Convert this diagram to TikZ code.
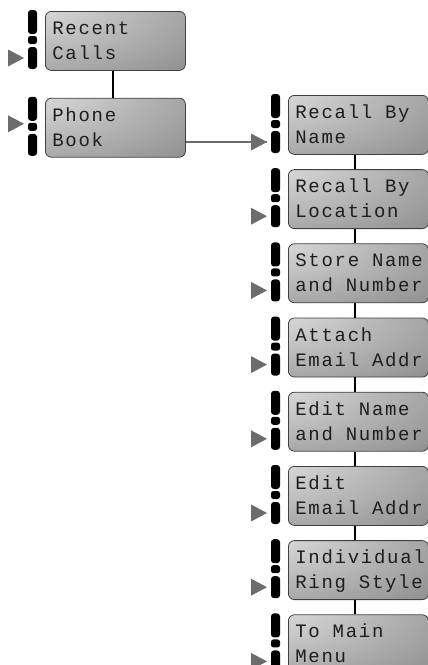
\documentclass[tikz,border=0pt]{standalone}
\usepackage{fontspec}
\newfontfamily\lcdfont[LetterSpace=9]{Liberation Mono}
\usepackage{xcolor}
\usepackage{tikz}
\usetikzlibrary{calc, positioning}
\definecolor{lcdlight}{RGB}{218,218,218}
\definecolor{lcddark}{RGB}{78,78,78}
\definecolor{lcdedge}{RGB}{64,64,64}
\definecolor{lcdtext}{RGB}{30,30,30}
\definecolor{selgray}{RGB}{108,108,108}
\pgfdeclareradialshading{lcdshade}{\pgfpoint{-45bp}{40bp}}{color(0bp)=(lcdlight); color(15bp)=(lcdlight); color(120bp)=(lcddark); color(170bp)=(lcddark)}
% fixed-pitch gap between words on the display
\newcommand\lcdgap{\kern12.8pt\relax}
\tikzset{
    lcdbox/.style={
        draw=lcdedge, line width=0.8pt, rounded corners=6pt, shading=lcdshade,
        minimum width=140pt, minimum height=59pt, anchor=north west,
        inner xsep=7pt, inner ysep=0pt, text width=126pt, align=left,
        text height=15.5pt, text depth=28.5pt, text=lcdtext,
        font=\lcdfont\fontsize{19}{25}\selectfont
    },
    keycap/.style={fill=black, rounded corners=3pt},
    keydot/.style={fill=black, rounded corners=2.5pt},
    selmark/.style={fill=selgray},
    menu link/.style={draw=black, line width=2pt},
    jump link/.style={draw=selgray, line width=2.6pt}
}

\begin{document}
\begin{tikzpicture}[x=1pt, y=1pt]
    \useasboundingbox (0,0) rectangle (428,-665);
    % top level
    \node[lcdbox] (rc) at (45,-11) {Recent\\Calls};
    \node[lcdbox, below=27pt of rc] (pb) {Phone\\Book};
    % phone book submenu
    \node[lcdbox] (r1) at (288,-95) {Recall\lcdgap By\\Name};
    \node[lcdbox, below=14.4pt of r1] (r2) {Recall\lcdgap By\\Location};
    \node[lcdbox, below=14.4pt of r2] (r3) {Store\lcdgap Name\\and\lcdgap Number};
    \node[lcdbox, below=14.4pt of r3] (r4) {Attach\\Email\lcdgap Addr};
    \node[lcdbox, below=14.4pt of r4] (r5) {Edit\lcdgap Name\\and\lcdgap Number};
    \node[lcdbox, below=14.4pt of r5] (r6) {Edit\\Email\lcdgap Addr};
    \node[lcdbox, below=14.4pt of r6] (r7) {Individual\\Ring\lcdgap Style};
    \node[lcdbox, below=14.4pt of r7] (r8) {To\lcdgap Main\\Menu};
    % soft keys left of every screen
    \foreach \b in {rc,pb,r1,r2,r3,r4,r5,r6,r7,r8} {
        \fill[keycap] ($(\b.north west)+(-17,1)$) rectangle ($(\b.north west)+(-8,-23)$);
        \fill[keydot] ($(\b.north west)+(-17,-25)$) rectangle ($(\b.north west)+(-8,-33)$);
        \fill[keycap] ($(\b.north west)+(-17,-36)$) rectangle ($(\b.north west)+(-8,-58)$);
    }
    % selection markers
    \coordinate (sel-pb) at ($(pb.north west)+(-21,-26)$);
    \foreach \b in {rc,r1,r2,r3,r4,r5,r6,r7,r8}
        \coordinate (sel-\b) at ($(\b.north west)+(-21,-47)$);
    \draw[menu link] ([xshift=-2.5pt]rc.south) -- ([xshift=-2.5pt]pb.north);
    \foreach \i in {2,...,8} {
        \pgfmathtruncatemacro\j{\i-1}
        \draw[menu link] ([xshift=-3pt]r\j.south) -- ([xshift=-3pt]r\i.north);
    }
    \draw[jump link] (pb.east |- sel-r1) -- (sel-r1);
    \foreach \b in {rc,pb,r1,r2,r3,r4,r5,r6,r7,r8}
        \fill[selmark] (sel-\b) -- ++(-16,8.5) -- ++(0,-17) -- cycle;
\end{tikzpicture}
\end{document}
